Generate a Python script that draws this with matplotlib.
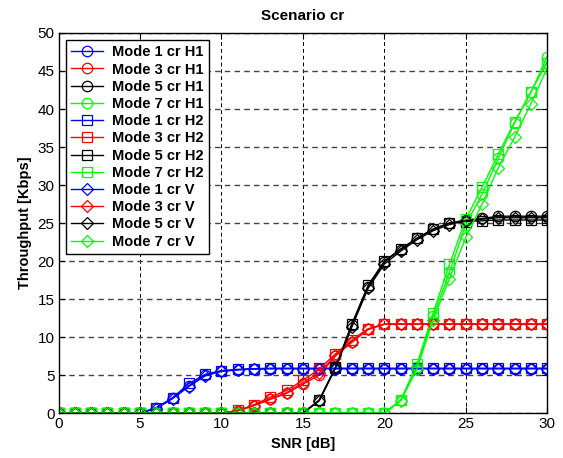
import numpy as np
import matplotlib
matplotlib.use("Agg")
import matplotlib.pyplot as plt

plt.rcParams['font.family'] = ['Liberation Sans', 'DejaVu Sans']

snr = list(range(0, 31))

# Mode 1 (blue)
m1_h1 = [0]*6 + [0.7, 2.0, 3.6, 5.0, 5.5, 5.7, 5.8] + [5.85]*18
m1_h2 = [0]*6 + [0.7, 2.0, 3.9, 5.1, 5.6, 5.75, 5.85] + [5.9]*18
m1_v  = [0]*6 + [0.6, 1.9, 3.5, 4.9, 5.5, 5.7, 5.8] + [5.85]*18

# Mode 3 (red)
m3_h1 = [0]*11 + [0.3, 1.0, 1.8, 2.6, 3.8, 5.0, 7.5, 9.3, 11.0, 11.7] + [11.7]*10
m3_h2 = [0]*11 + [0.35, 1.1, 2.1, 3.0, 4.3, 5.8, 7.8, 9.6, 11.1, 11.7] + [11.7]*10
m3_v  = [0]*11 + [0.3, 1.0, 1.9, 2.7, 4.0, 5.3, 7.6, 9.4, 11.0, 11.7] + [11.7]*10

# Mode 5 (black)
m5_h1 = [0]*16 + [1.7, 6.0, 11.6, 16.6, 19.9, 21.5, 23.0, 24.2, 25.0, 25.4, 25.6, 25.9, 25.9, 25.9, 25.9]
m5_h2 = [0]*16 + [1.7, 6.0, 11.7, 16.8, 20.0, 21.6, 23.0, 24.2, 25.0, 25.2, 25.3, 25.4, 25.4, 25.4, 25.4]
m5_v  = [0]*16 + [1.6, 5.9, 11.3, 16.4, 19.6, 21.3, 22.8, 24.0, 24.8, 25.3, 25.5, 25.7, 25.7, 25.7, 25.7]

# Mode 7 (green)
m7_h1 = [0]*21 + [1.7, 6.0, 12.8, 18.5, 24.8, 28.8, 33.5, 38.2, 42.2, 46.9]
m7_h2 = [0]*21 + [1.7, 6.4, 13.2, 19.6, 25.5, 29.7, 34.1, 38.3, 42.3, 46.1]
m7_v  = [0]*21 + [1.6, 5.8, 12.3, 17.7, 23.1, 27.5, 32.3, 36.3, 40.7, 45.4]

series = [
    ("Mode 1 cr H1", m1_h1, "#0000ff", "o"),
    ("Mode 3 cr H1", m3_h1, "#ff0000", "o"),
    ("Mode 5 cr H1", m5_h1, "#000000", "o"),
    ("Mode 7 cr H1", m7_h1, "#00ff00", "o"),
    ("Mode 1 cr H2", m1_h2, "#0000ff", "s"),
    ("Mode 3 cr H2", m3_h2, "#ff0000", "s"),
    ("Mode 5 cr H2", m5_h2, "#000000", "s"),
    ("Mode 7 cr H2", m7_h2, "#00ff00", "s"),
    ("Mode 1 cr V", m1_v, "#0000ff", "D"),
    ("Mode 3 cr V", m3_v, "#ff0000", "D"),
    ("Mode 5 cr V", m5_v, "#000000", "D"),
    ("Mode 7 cr V", m7_v, "#00ff00", "D"),
]

fig = plt.figure(figsize=(5.63, 4.58), dpi=100)
ax = fig.add_axes([0.104, 0.098, 0.868, 0.83])

for label, vals, col, mk in series:
    ms = 7.5 if mk == "o" else (7 if mk == "s" else 6)
    ax.plot(snr, vals, color=col, marker=mk, markersize=ms, markerfacecolor='none',
            markeredgecolor=col, linewidth=1.0, markeredgewidth=0.9, label=label)

ax.set_xlim(0, 30)
ax.set_ylim(0, 50)
ax.set_xticks(range(0, 31, 5))
ax.set_yticks(range(0, 51, 5))
ax.tick_params(direction='in', labelsize=11, length=4, top=True, right=True, pad=3)
ax.xaxis.grid(True, color='black', linestyle=(0, (4, 3)), linewidth=0.7)
ax.yaxis.grid(True, color='#444444', linestyle=(0, (4, 3)), linewidth=1.0)
ax.set_axisbelow(True)

ax.set_title("Scenario cr", fontsize=11, fontweight='bold', pad=9)
ax.set_xlabel("SNR [dB]", fontsize=10.5, fontweight='bold', labelpad=4)
ax.set_ylabel("Throughput [Kbps]", fontsize=10.5, fontweight='bold', labelpad=4)

leg = ax.legend(loc='upper left', prop={'weight': 'bold', 'size': 10.5},
                frameon=True, fancybox=False, edgecolor='black', framealpha=1,
                borderaxespad=0.5, handlelength=2.2, labelspacing=0.22,
                handletextpad=0.6, borderpad=0.35)
leg.get_frame().set_linewidth(1.0)

for sp in ax.spines.values():
    sp.set_linewidth(1.0)

fig.savefig("out.png", dpi=100)
